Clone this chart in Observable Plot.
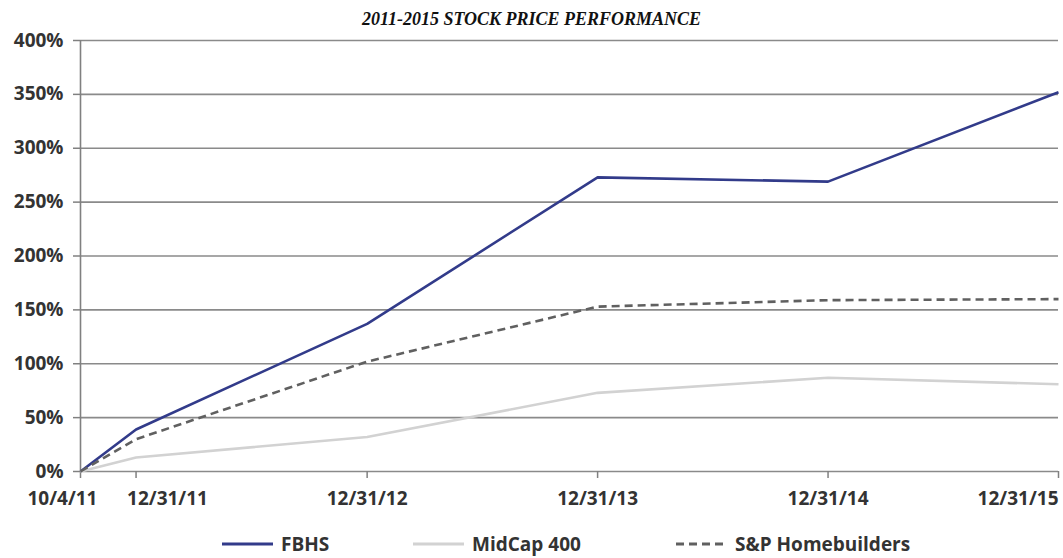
<!DOCTYPE html>
<html><head><meta charset="utf-8">
<script src="https://cdn.jsdelivr.net/npm/d3@7"></script>
<script src="https://cdn.jsdelivr.net/npm/@observablehq/plot@0.6"></script>
<style>
body{margin:0;background:#fff;width:1063px;height:558px;overflow:hidden;}
#title{height:30px;line-height:38px;text-align:center;font-family:"Liberation Serif",serif;font-weight:bold;font-style:italic;font-size:18px;color:#111;}
#chart svg{display:block;}
#legend{position:relative;height:28px;font-family:"Open Sans",sans-serif;font-weight:700;font-size:19px;color:#333;}
.item{position:absolute;top:0;height:28px;display:flex;align-items:center;}
.item svg{margin-right:8px;}
</style></head><body>
<div id="title">2011-2015 STOCK PRICE PERFORMANCE</div>
<div id="chart"></div>
<div id="legend"></div>
<script>
const dates = ["2011-10-04","2011-12-31","2012-12-31","2013-12-31","2014-12-31","2015-12-31"];
const tickLabels = ["10/4/11","12/31/11","12/31/12","12/31/13","12/31/14","12/31/15"];
const seriesNames = ["FBHS","MidCap 400","S&P Homebuilders"];
const fbhs = [0,39,137,273,269,352];
const midcap = [0,13,32,73,87,81];
const homebuilders = [0,30,102,153,159,160];
const yTicks = [0,50,100,150,200,250,300,350,400];

const parsed = dates.map(d => d3.utcParse("%Y-%m-%d")(d));
const labelOf = new Map(parsed.map((d,i)=>[+d, tickLabels[i]]));
const fmt = d => labelOf.get(+d);
const seriesValues = [fbhs, midcap, homebuilders];
const styles = [
  {stroke:"#323b8a", dash:null},
  {stroke:"#d2d2d2", dash:null},
  {stroke:"#606060", dash:"8,5"}
];
const rows = [];
seriesNames.forEach((s,si)=>parsed.forEach((d,i)=>rows.push({series:s, date:d, value:seriesValues[si][i]})));

const font = "'Open Sans', sans-serif";
const labelCommon = {tickSize:0, tickPadding:20, fontSize:19, fontWeight:700, fill:"#333", label:null, tickFormat:fmt};

const chart = Plot.plot({
  width:1063, height:500,
  marginTop:10, marginBottom:59, marginLeft:80, marginRight:5,
  style:{fontFamily:font, background:"#fff", overflow:"visible"},
  x:{type:"utc", domain:[parsed[0], parsed[parsed.length-1]], label:null},
  y:{domain:[0,400], label:null},
  marks:[
    Plot.gridY(yTicks, {stroke:"#8a8a8a", strokeOpacity:1, strokeWidth:1.6}),
    Plot.axisY(yTicks, {label:null, tickSize:7, tickPadding:10, tickFormat:d=>d+"%", fontSize:19, fontWeight:700, fill:"#333", stroke:"#808080", strokeWidth:1.5}),
    Plot.ruleX([parsed[0]], {stroke:"#808080", strokeWidth:1.6}),
    Plot.axisX(parsed, {label:null, tickSize:7, tickFormat:()=>"", stroke:"#808080", strokeWidth:1.5}),
    Plot.axisX([parsed[0]], {...labelCommon, textAnchor:"end", dx:17}),
    Plot.axisX([parsed[1]], {...labelCommon, textAnchor:"start", dx:-9}),
    Plot.axisX(parsed.slice(2,5), {...labelCommon}),
    Plot.axisX([parsed[5]], {...labelCommon, textAnchor:"end", dx:0}),
    ...seriesNames.map((s,i)=>Plot.line(rows.filter(r=>r.series===s), {
      x:"date", y:"value", stroke:styles[i].stroke, strokeWidth:2.6,
      strokeDasharray:styles[i].dash, strokeLinejoin:"miter", strokeLinecap:"butt"
    }))
  ]
});
document.getElementById("chart").appendChild(chart);

const legend = document.getElementById("legend");
const lefts = [222, 413, 676];
seriesNames.forEach((s,i)=>{
  const it = document.createElement("div");
  it.className="item"; it.style.left = lefts[i]+"px";
  it.innerHTML = `<svg width="51" height="6"><line x1="0" x2="51" y1="3" y2="3" stroke="${styles[i].stroke}" stroke-width="3" ${styles[i].dash?`stroke-dasharray="${styles[i].dash}"`:""}/></svg><span>${s.replace("&","&amp;")}</span>`;
  legend.appendChild(it);
});
</script>
</body></html>
